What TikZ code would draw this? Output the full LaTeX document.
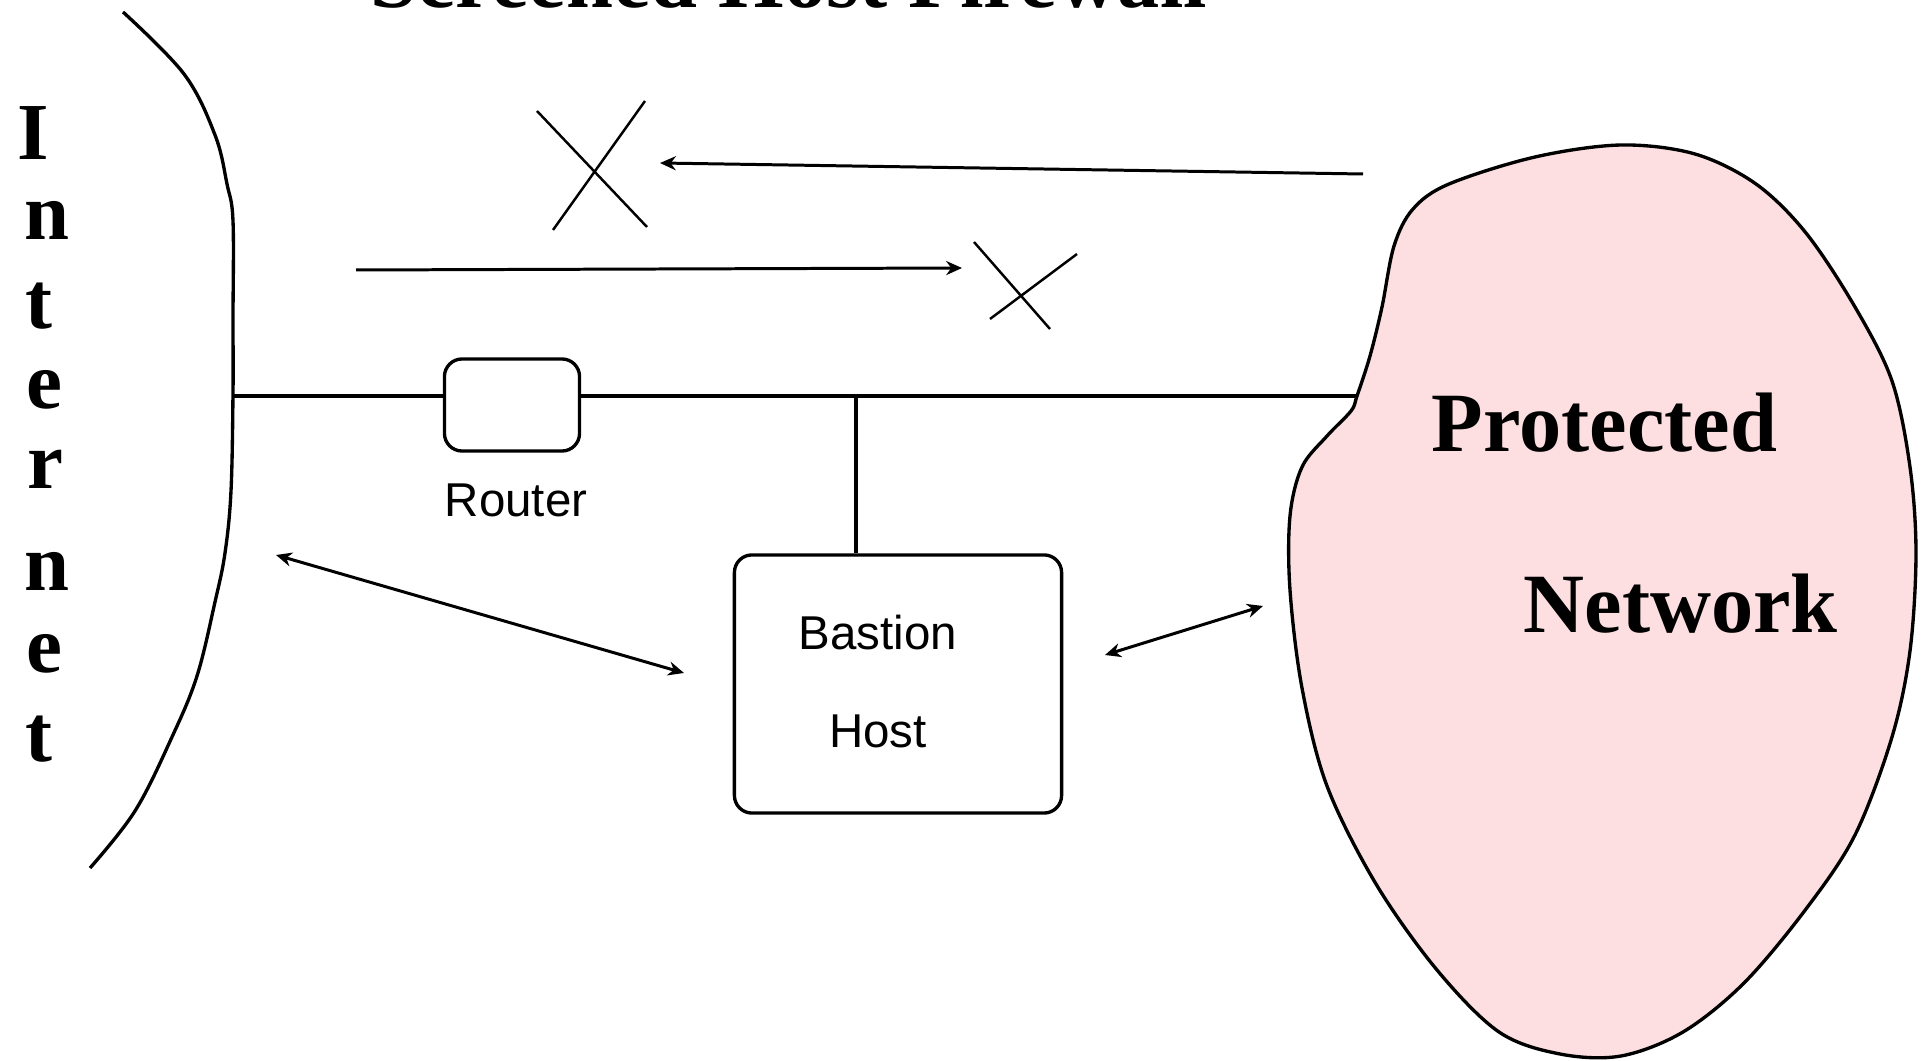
\documentclass[tikz,border=0pt]{standalone}
\usepackage{fontspec}
\setmainfont{Liberation Serif}
\newfontfamily\labelfont{Liberation Sans}
\usetikzlibrary{arrows.meta}
\definecolor{protpink}{RGB}{253,223,225}
\tikzset{
  wire/.style={line width=0.95pt},
  flow/.style={line width=0.85pt},
  flowtip/.style={-{Stealth[length=4.5pt,width=4pt]}},
  bothtips/.style={{Stealth[length=4.5pt,width=4pt]}-{Stealth[length=4.5pt,width=4pt]}},
  blocked/.style={line width=0.7pt},
  devbox/.style={draw, line width=0.95pt, rounded corners=5pt, inner sep=0pt},
  devlabel/.style={font=\labelfont\fontsize{13.5}{15}\selectfont, inner sep=0pt},
  inetletter/.style={font=\bfseries\fontsize{23}{26}\selectfont, anchor=base, inner sep=0pt},
  bigtitle/.style={font=\bfseries\fontsize{24}{28}\selectfont, anchor=base, inner sep=0pt},
  netlabel/.style={font=\bfseries\fontsize{24}{28}\selectfont, anchor=base west, inner sep=0pt}
}
\begin{document}
\begin{tikzpicture}[x=0.01cm, y=-0.01cm]
\useasboundingbox (0,0) rectangle (1926,1061);

% heading, mostly above the page edge
\node[bigtitle] (title) at (789,8) {Screened Host Firewall};

% protected network cloud
\coordinate (pnjoin) at (1357,396);
\draw[wire, fill=protpink] plot[smooth cycle, tension=0.55] coordinates {
  (1357,396) (1370,356) (1382,307) (1394,246) (1413,209) (1449,184)
  (1535,157) (1621,145) (1695,154) (1756,184) (1806,233) (1855,307)
  (1892,381) (1910,467) (1916,553) (1910,651) (1892,737) (1855,835)
  (1806,909) (1744,983) (1683,1032) (1621,1056) (1560,1054) (1499,1032)
  (1437,970) (1376,884) (1327,786) (1302,688) (1290,590) (1290,516)
  (1302,467) (1327,436) (1351,411)};
\node[netlabel] (prot) at (1431,452) {Protected};
\node[netlabel] (netw) at (1523,633) {Network};

% Internet boundary
\draw[wire] plot[smooth, tension=0.6] coordinates {
  (123,12) (184,74) (215,135) (227,184) (233,221) (233,319) (233,393)
  (231,491) (225,553) (215,602) (197,676) (172,737) (135,811) (90,868)};
\coordinate (inet) at (233,396);

% vertical "Internet"
\node[inetletter] (i1) at (33,160) {I};
\node[inetletter] (i2) at (47,240) {n};
\node[inetletter] (i3) at (39,329) {t};
\node[inetletter] (i4) at (44,409) {e};
\node[inetletter] (i5) at (45,489) {r};
\node[inetletter] (i6) at (47,591) {n};
\node[inetletter] (i7) at (44,673) {e};
\node[inetletter] (i8) at (39,762) {t};

% devices
\node[devbox, minimum width=1.35cm, minimum height=0.92cm] (router) at (512,405) {};
\node[devlabel] (routerlbl) at (516,500) {Router};
\node[devbox, minimum width=3.27cm, minimum height=2.58cm] (bastion) at (898,684) {};
\node[devlabel] (bast1) at (878,633) {Bastion};
\node[devlabel] (bast2) at (878,731) {Host};

% network wire
\coordinate (tap) at (856,396);
\draw[wire] (inet) -- (inet -| router.west);
\draw[wire] (inet -| router.east) -- (tap) -- (pnjoin);
\draw[wire] (tap) -- (tap |- bastion.north);

% blocked traffic
\coordinate (outsrc) at (1363,174);
\coordinate (outdst) at (660,163);
\draw[flow, flowtip] (outsrc) -- (outdst);
\coordinate (xa1) at (537,111); \coordinate (xa2) at (647,227);
\coordinate (xa3) at (645,101); \coordinate (xa4) at (553,230);
\draw[blocked] (xa1) -- (xa2) (xa3) -- (xa4);

\coordinate (insrc) at (356,270);
\coordinate (indst) at (962,268);
\draw[flow, flowtip] (insrc) -- (indst);
\coordinate (xb1) at (974,242); \coordinate (xb2) at (1050,329);
\coordinate (xb3) at (1077,254); \coordinate (xb4) at (990,319);
\draw[blocked] (xb1) -- (xb2) (xb3) -- (xb4);

% permitted traffic via the bastion host
\coordinate (outside) at (276,555);
\coordinate (bastin) at (684,673);
\draw[flow, bothtips] (outside) -- (bastin);
\coordinate (bastout) at (1105,655);
\coordinate (netin) at (1263,606);
\draw[flow, bothtips] (bastout) -- (netin);
\end{tikzpicture}
\end{document}
